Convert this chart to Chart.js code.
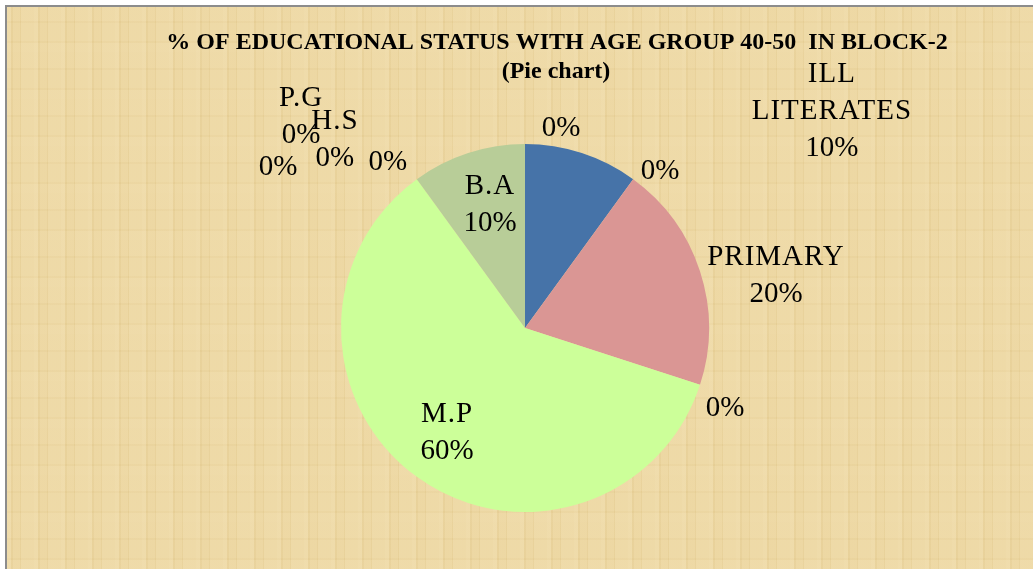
<!DOCTYPE html>
<html lang="en">
<head>
    <meta charset="UTF-8">
    <title>Educational status, age group 40-50, Block-2</title>
    <script src="https://cdn.jsdelivr.net/npm/chart.js"></script>
    <style>
        html, body {
            margin: 0;
            padding: 0;
            background: #ffffff;
        }

        .frame {
            position: absolute;
            left: 5px;
            top: 5px;
            width: 1026px;
            height: 562px;
            border-left: 2px solid #8c8c8c;
            border-top: 2px solid #8c8c8c;
            /* papyrus-like fill */
            background-color: #ead39c;
            background-image:
                repeating-linear-gradient(90deg, rgba(255,243,210,0.22) 0 4px, rgba(205,175,105,0.08) 4px 6px, rgba(255,240,200,0.10) 6px 13px, rgba(200,170,100,0.07) 13px 14px, rgba(255,243,210,0.16) 14px 27px),
                repeating-linear-gradient(0deg, rgba(255,243,210,0.10) 0 9px, rgba(200,170,100,0.05) 9px 11px, rgba(255,243,210,0.06) 11px 29px, rgba(195,165,95,0.05) 29px 31px, rgba(255,243,210,0.08) 31px 47px);
        }

        canvas {
            display: block;
        }
    </style>
</head>
<body>
    <div class="frame">
        <canvas id="pie" width="1026" height="562"></canvas>
    </div>
    <script>
        // categories in clockwise order from 12 o'clock (blank names = unlabelled zero categories)
        var categories = ['ILL LITERATES', '', 'PRIMARY', '', 'M.P', '', 'H.S', 'P.G', '', 'B.A', ''];
        var values = [10, 0, 20, 0, 60, 0, 0, 0, 0, 10, 0];
        var sliceColors = ['#4673a8', '#4673a8', '#da9694', '#da9694', '#ccff99', '#ccff99', '#ccff99', '#ccff99', '#ccff99', '#b8cd98', '#b8cd98'];
        var titleLines = ['% OF EDUCATIONAL STATUS WITH AGE GROUP 40-50  IN BLOCK-2', '(Pie chart)'];

        // where each data label sits, in pie radii from the centre (Excel placed these by hand)
        var labelSpots = [
            [1.668, -1.179], [0.734, -0.853], [1.364, -0.283], [1.087, 0.435],
            [-0.424, 0.571], [-0.745, -0.902], [-1.033, -1.022], [-1.217, -1.147],
            [-1.342, -0.875], [-0.190, -0.668], [0.196, -1.087]
        ];

        var labelPlugin = {
            id: 'excelLabels',
            afterDatasetsDraw: function(chart) {
                var ctx = chart.ctx;
                var meta = chart.getDatasetMeta(0);
                var arc = meta.data[0];
                var cx = arc.x, cy = arc.y, r = arc.outerRadius;
                var total = values.reduce(function(a, b) { return a + b; }, 0);

                ctx.save();
                ctx.fillStyle = '#000000';
                ctx.textAlign = 'center';
                ctx.textBaseline = 'middle';
                ctx.font = '29px "Liberation Serif", "Times New Roman", serif';
                var lineH = 37;

                values.forEach(function(v, i) {
                    var lines = [];
                    if (categories[i] === 'ILL LITERATES') {
                        lines.push('ILL', 'LITERATES');
                    } else if (categories[i]) {
                        lines.push(categories[i]);
                    }
                    lines.push(Math.round(v / total * 100) + '%');
                    var x = cx + labelSpots[i][0] * r;
                    var y = cy + labelSpots[i][1] * r - (lines.length - 1) * lineH / 2;
                    lines.forEach(function(t, k) {
                        ctx.letterSpacing = /%$/.test(t) ? '0px' : '1px';
                        ctx.fillText(t, x, y + k * lineH);
                    });
                });
                ctx.letterSpacing = '0px';

                // title (frame origin is at 7,7 in the page)
                ctx.font = 'bold 24px "Liberation Serif", "Times New Roman", serif';
                ctx.fillText(titleLines[0], 550, 36);
                ctx.fillText(titleLines[1], 549, 65);
                ctx.restore();
            }
        };

        var chart = new Chart(document.getElementById('pie').getContext('2d'), {
            type: 'pie',
            data: {
                labels: categories,
                datasets: [{
                    data: values,
                    backgroundColor: sliceColors,
                    borderWidth: 0
                }]
            },
            options: {
                responsive: false,
                animation: false,
                layout: {
                    padding: { left: 334, top: 137, right: 324, bottom: 57 }
                },
                plugins: {
                    legend: { display: false },
                    tooltip: { enabled: false },
                    title: { display: false }
                }
            },
            plugins: [labelPlugin]
        });
    </script>
</body>
</html>
